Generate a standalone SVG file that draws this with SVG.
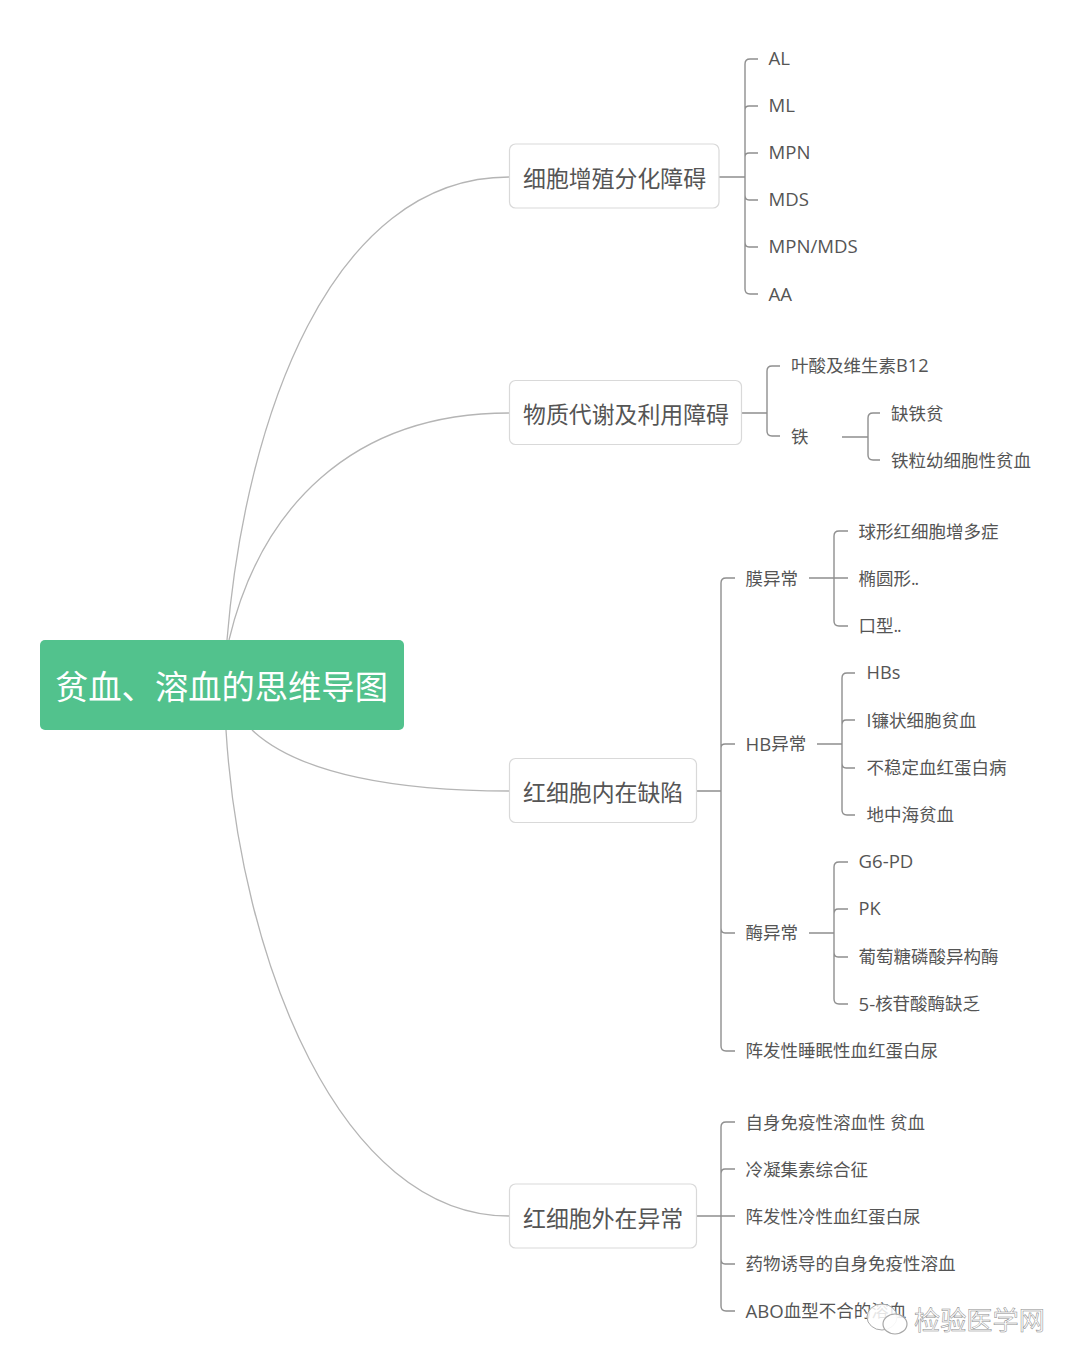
<svg xmlns="http://www.w3.org/2000/svg" width="1080" height="1368" viewBox="0 0 1080 1368">
<style>
text{font-family:"Open Sans","Noto Sans CJK SC","Noto Sans",sans-serif;fill:#555;dominant-baseline:central}
.l{font-size:17.5px}
.x{font-size:18.6px}
.y{font-size:18.2px}
.d{letter-spacing:-1px}
.b{font-size:22.9px}
.r{font-size:33.3px;fill:#fff}
.n{fill:#fff;stroke:#d9d9d9;stroke-width:1.2}
.c{fill:none;stroke:#b5b5b5;stroke-width:1.3}
.t{fill:none;stroke:#8f8f8f;stroke-width:1.4}
.w{font-size:26.2px;fill:#fff;fill-opacity:.75;stroke:#8a8a8a;stroke-width:.5}
</style>
<rect width="1080" height="1368" fill="#fff"/>
<g id="connectors">
<path class="c" d="M227 640C245 420 330 177 509 177"/>
<path class="c" d="M229 640C260 510 350 413 509 413"/>
<path class="c" d="M252 730C300 775 400 791 509 791"/>
<path class="c" d="M226 730C240 960 340 1216 509 1216"/>
<g id="bracket-1"><path class="t" d="M719 177H745M758 59H750Q745 59 745 64V289Q745 294 750 294H758M745 110Q745 106 749 106H758M745 157Q745 153 749 153H758M745 195Q745 200 749 200H758M745 242Q745 247 749 247H758"/></g>
<g id="bracket-2"><path class="t" d="M742 413H767M780 366H772Q767 366 767 371V431Q767 436 772 436H780M842 437H868M880 413H873Q868 413 868 418V455Q868 460 873 460H880"/></g>
<g id="bracket-3"><path class="t" d="M696 791H721M735 578H726Q721 578 721 583V1046Q721 1051 726 1051H735M721 748Q721 744 725 744H735M721 928Q721 933 725 933H735M809 578H848M848 531H839Q834 531 834 536V621Q834 626 839 626H848M817 744H842M855 673H847Q842 673 842 678V810Q842 815 847 815H855M842 725Q842 720 846 720H855M842 763Q842 768 846 768H855M809 933H834M848 862H839Q834 862 834 867V999Q834 1004 839 1004H848M834 914Q834 909 838 909H848M834 952Q834 957 838 957H848"/></g>
<g id="bracket-4"><path class="t" d="M696 1216H735M735 1122H726Q721 1122 721 1127V1306Q721 1311 726 1311H735M721 1174Q721 1169 725 1169H735M721 1259Q721 1264 725 1264H735"/></g>
</g>
<g id="root"><rect x="40" y="640" width="364" height="90" rx="5" fill="#52c28d"/><text class="r" x="55" y="686">贫血、溶血的思维导图</text></g>
<g id="n1"><rect class="n" x="509.500" y="144" width="209.500" height="64" rx="6"/><text class="b" x="523" y="178">细胞增殖分化障碍</text></g>
<g id="n1-1"><text class="x" x="768.500" y="57.500">AL</text></g>
<g id="n1-2"><text class="x" x="768.500" y="104.500">ML</text></g>
<g id="n1-3"><text class="x" x="768.500" y="151.500">MPN</text></g>
<g id="n1-4"><text class="x" x="768.500" y="198.500">MDS</text></g>
<g id="n1-5"><text class="x" x="768.500" y="245.500">MPN/MDS</text></g>
<g id="n1-6"><text class="x" x="768.500" y="293">AA</text></g>
<g id="n2"><rect class="n" x="509.500" y="380.500" width="232" height="64" rx="6"/><text class="b" x="523" y="414">物质代谢及利用障碍</text></g>
<g id="n2-1"><text class="l" x="791" y="365">叶酸及维生素<tspan class="y">B12</tspan></text></g>
<g id="n2-2"><text class="l" x="791" y="436">铁</text></g>
<g id="n2-2-1"><text class="l" x="891" y="413">缺铁贫</text></g>
<g id="n2-2-2"><text class="l" x="891" y="460">铁粒幼细胞性贫血</text></g>
<g id="n3"><rect class="n" x="509.500" y="758.500" width="187" height="64" rx="6"/><text class="b" x="523" y="792">红细胞内在缺陷</text></g>
<g id="n3-1"><text class="l" x="745.500" y="578">膜异常</text></g>
<g id="n3-1-1"><text class="l" x="858.500" y="531">球形红细胞增多症</text></g>
<g id="n3-1-2"><text class="l" x="858.500" y="578">椭圆形<tspan class="d">..</tspan></text></g>
<g id="n3-1-3"><text class="l" x="858.500" y="625">口型<tspan class="d">..</tspan></text></g>
<g id="n3-2"><text class="l" x="745.500" y="743"><tspan class="x">HB</tspan>异常</text></g>
<g id="n3-2-1"><text class="y" x="866.500" y="671.500">HBs</text></g>
<g id="n3-2-2"><text class="l" x="866.500" y="720">I镰状细胞贫血</text></g>
<g id="n3-2-3"><text class="l" x="866.500" y="767">不稳定血红蛋白病</text></g>
<g id="n3-2-4"><text class="l" x="866.500" y="814">地中海贫血</text></g>
<g id="n3-3"><text class="l" x="745.500" y="932">酶异常</text></g>
<g id="n3-3-1"><text class="x" x="858.500" y="860.500">G6-PD</text></g>
<g id="n3-3-2"><text class="y" x="858.500" y="907.500">PK</text></g>
<g id="n3-3-3"><text class="l" x="858.500" y="956">葡萄糖磷酸异构酶</text></g>
<g id="n3-3-4"><text class="l" x="858.500" y="1003"><tspan class="x">5-</tspan>核苷酸酶缺乏</text></g>
<g id="n3-4"><text class="l" x="745.500" y="1050">阵发性睡眠性血红蛋白尿</text></g>
<g id="n4"><rect class="n" x="509.500" y="1184" width="187" height="64" rx="6"/><text class="b" x="523" y="1218">红细胞外在异常</text></g>
<g id="n4-1"><text class="l" x="745.500" y="1122">自身免疫性溶血性 贫血</text></g>
<g id="n4-2"><text class="l" x="745.500" y="1169">冷凝集素综合征</text></g>
<g id="n4-3"><text class="l" x="745.500" y="1216">阵发性冷性血红蛋白尿</text></g>
<g id="n4-4"><text class="l" x="745.500" y="1263">药物诱导的自身免疫性溶血</text></g>
<g id="n4-5"><text class="l" x="745.500" y="1310"><tspan class="x">ABO</tspan>血型不合的溶血</text></g>
<g id="watermark">
<ellipse cx="882" cy="1317" rx="15" ry="13" fill="#fff" fill-opacity=".85" stroke="#a8a8a8" stroke-width="1"/>
<ellipse cx="895" cy="1324" rx="12" ry="10" fill="#fff" fill-opacity=".9" stroke="#a8a8a8" stroke-width="1.2"/>
<text class="w" x="914" y="1320">检验医学网</text>
</g>
</svg>
